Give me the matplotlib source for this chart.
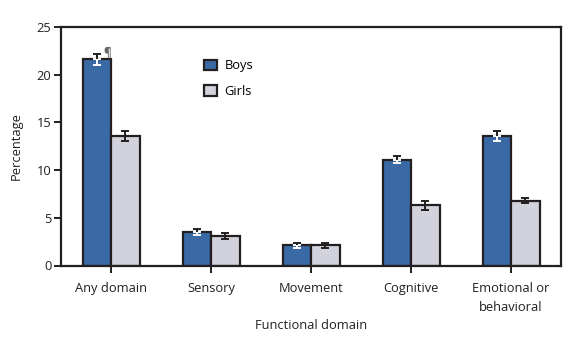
import matplotlib
matplotlib.use("Agg")
import matplotlib.pyplot as plt
from matplotlib.patches import Patch
import numpy as np

categories = ["Any domain", "Sensory", "Movement", "Cognitive", "Emotional or\nbehavioral"]
boys = [21.6, 3.5, 2.1, 11.1, 13.6]
boys_err = [0.6, 0.35, 0.3, 0.4, 0.5]
girls = [13.6, 3.1, 2.1, 6.3, 6.8]
girls_err = [0.5, 0.3, 0.3, 0.45, 0.3]
yticks = [0, 5, 10, 15, 20, 25]

BLUE = "#3A6AA6"
GRAY = "#D2D2DC"
DARK = "#231F20"
FS = 9.3

plt.rcParams["font.family"] = ["Open Sans", "DejaVu Sans"]

fig = plt.figure(figsize=(5.8, 3.37), dpi=100)
ax = fig.add_axes([61 / 580, 1 - 265.5 / 337, 500 / 580, 238.5 / 337])

x = np.arange(len(categories))
w = 0.285

ax.bar(x - w / 2, boys, width=w, color=BLUE, edgecolor=DARK, linewidth=1.6, zorder=2)
ax.bar(x + w / 2, girls, width=w, color=GRAY, edgecolor=DARK, linewidth=1.6, zorder=2)

ekw = dict(fmt="none", ecolor=DARK, elinewidth=1.4, capsize=3.2, capthick=1.4, zorder=3)
ax.errorbar(x - w / 2, boys, yerr=boys_err, **ekw)
ax.errorbar(x + w / 2, girls, yerr=girls_err, **ekw)
# lower half of the boys' error bars sits inside the blue bar, drawn in white
ax.errorbar(x - w / 2, boys, yerr=[boys_err, [0] * len(boys)], fmt="none",
            ecolor="white", elinewidth=1.4, capsize=3.2, capthick=1.4, zorder=4)
ax.errorbar(x - w / 2, boys, yerr=[[0] * len(boys), boys_err], fmt="none",
            ecolor=DARK, elinewidth=1.4, capsize=0, zorder=4)

ax.text(x[0] - w / 2 + 0.065, boys[0] + boys_err[0] + 0.1, "¶", fontsize=8.5,
        color="#666666", ha="left", va="center", fontweight="bold")

ax.set_xlim(-0.5, 4.5)
ax.set_ylim(0, 25)
ax.set_yticks(yticks)
ax.set_xticks(x)
ax.set_xticklabels(categories, fontsize=FS, color=DARK, linespacing=1.55)
ax.set_yticklabels([str(t) for t in yticks], fontsize=FS, color=DARK)
ax.tick_params(axis="both", direction="out", length=5, width=1.4, color=DARK, pad=2)
ax.tick_params(axis="x", pad=7)
for s in ax.spines.values():
    s.set_linewidth(1.6)
    s.set_color(DARK)

ax.set_ylabel("Percentage", fontsize=FS, color=DARK, labelpad=10)
ax.set_xlabel("Functional domain", fontsize=FS, color=DARK, labelpad=4)

handles = [Patch(facecolor=BLUE, edgecolor=DARK, linewidth=1.6, label="Boys"),
           Patch(facecolor=GRAY, edgecolor=DARK, linewidth=1.6, label="Girls")]
ax.legend(handles=handles, loc="upper left", bbox_to_anchor=(0.262, 0.913), frameon=False,
          fontsize=FS, handlelength=1.0, handleheight=0.9, handletextpad=0.6, labelspacing=0.95)

fig.savefig("out.png", dpi=100, facecolor="white")
